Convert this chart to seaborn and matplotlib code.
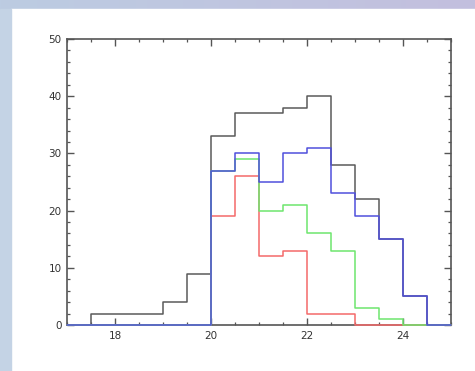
"""plot.py - stacked step histograms of magnitudes (total and three subsets)."""

import matplotlib
matplotlib.use("Agg")
import matplotlib.pyplot as plt
from matplotlib.ticker import MultipleLocator
import numpy as np
import pandas as pd
import seaborn as sns

# bin edges and counts per bin
bin_lo, bin_hi, bin_width = 17.0, 25.0, 0.5
bin_centers = np.arange(bin_lo, bin_hi, bin_width) + bin_width / 2

total_counts = [0, 2, 2, 2, 4, 9, 33, 37, 37, 38, 40, 28, 22, 15, 5, 0]
red_counts = [0, 0, 0, 0, 0, 0, 19, 26, 12, 13, 2, 2, 0, 0, 0, 0]
green_counts = [0, 0, 0, 0, 0, 0, 27, 29, 20, 21, 16, 13, 3, 1, 0, 0]
blue_counts = [0, 0, 0, 0, 0, 0, 27, 30, 25, 30, 31, 23, 19, 15, 5, 0]

series = [
    ("total", total_counts, "#5a5a5a"),
    ("red", red_counts, "#f46a6a"),
    ("green", green_counts, "#6ee66e"),
    ("blue", blue_counts, "#5050dc"),
]

x_ticks = [18, 20, 22, 24]
y_ticks = [0, 10, 20, 30, 40, 50]


def draw_background(fig):
    # light blue frame on the left and top, like the slide it came from
    bg = fig.add_axes([0, 0, 1, 1], zorder=-10)
    grad = np.linspace(0, 1, 256)[None, :]
    bg.imshow(grad, extent=[0, 1, 0, 1], aspect="auto",
              cmap=matplotlib.colors.LinearSegmentedColormap.from_list(
                  "frame", ["#bccce2", "#c3bfde"]))
    bg.add_patch(plt.Rectangle((11 / 475, 0), 1, 1 - 9 / 371,
                               color="white", transform=bg.transAxes))
    bg.add_patch(plt.Rectangle((0, 0), 11 / 475, 1 - 9 / 371,
                               color="#c4d3e5", transform=bg.transAxes))
    bg.set_xlim(0, 1)
    bg.set_ylim(0, 1)
    bg.axis("off")


def main():
    sns.set_style("ticks")
    fig = plt.figure(figsize=(4.75, 3.71), dpi=100)
    draw_background(fig)

    ax = fig.add_axes([67 / 475, 46 / 371, 384 / 475, 286 / 371])
    ax.set_facecolor("none")

    for name, counts, color in series:
        df = pd.DataFrame({"mag": bin_centers, "n": counts})
        sns.histplot(data=df, x="mag", weights="n", binwidth=bin_width,
                     binrange=(bin_lo, bin_hi), element="step", fill=False,
                     color=color, linewidth=1.1, zorder=3, clip_on=False,
                     ax=ax)

    ax.set_xlim(17, 25)
    ax.set_ylim(0, 50)
    ax.set_xticks(x_ticks)
    ax.set_yticks(y_ticks)
    ax.xaxis.set_minor_locator(MultipleLocator(0.5))
    ax.yaxis.set_minor_locator(MultipleLocator(2))
    ax.set_xlabel("")
    ax.set_ylabel("")

    for spine in ax.spines.values():
        spine.set_visible(True)
        spine.set_color("#555555")
        spine.set_linewidth(1.2)
    ax.tick_params(which="both", direction="in", top=True, right=True,
                   color="#555555", labelsize=7.5, labelcolor="#333333")
    ax.tick_params(which="major", length=5, width=1.0, pad=4)
    ax.tick_params(which="minor", length=2.5, width=0.9)

    fig.savefig("out.png", dpi=100)


if __name__ == "__main__":
    main()
